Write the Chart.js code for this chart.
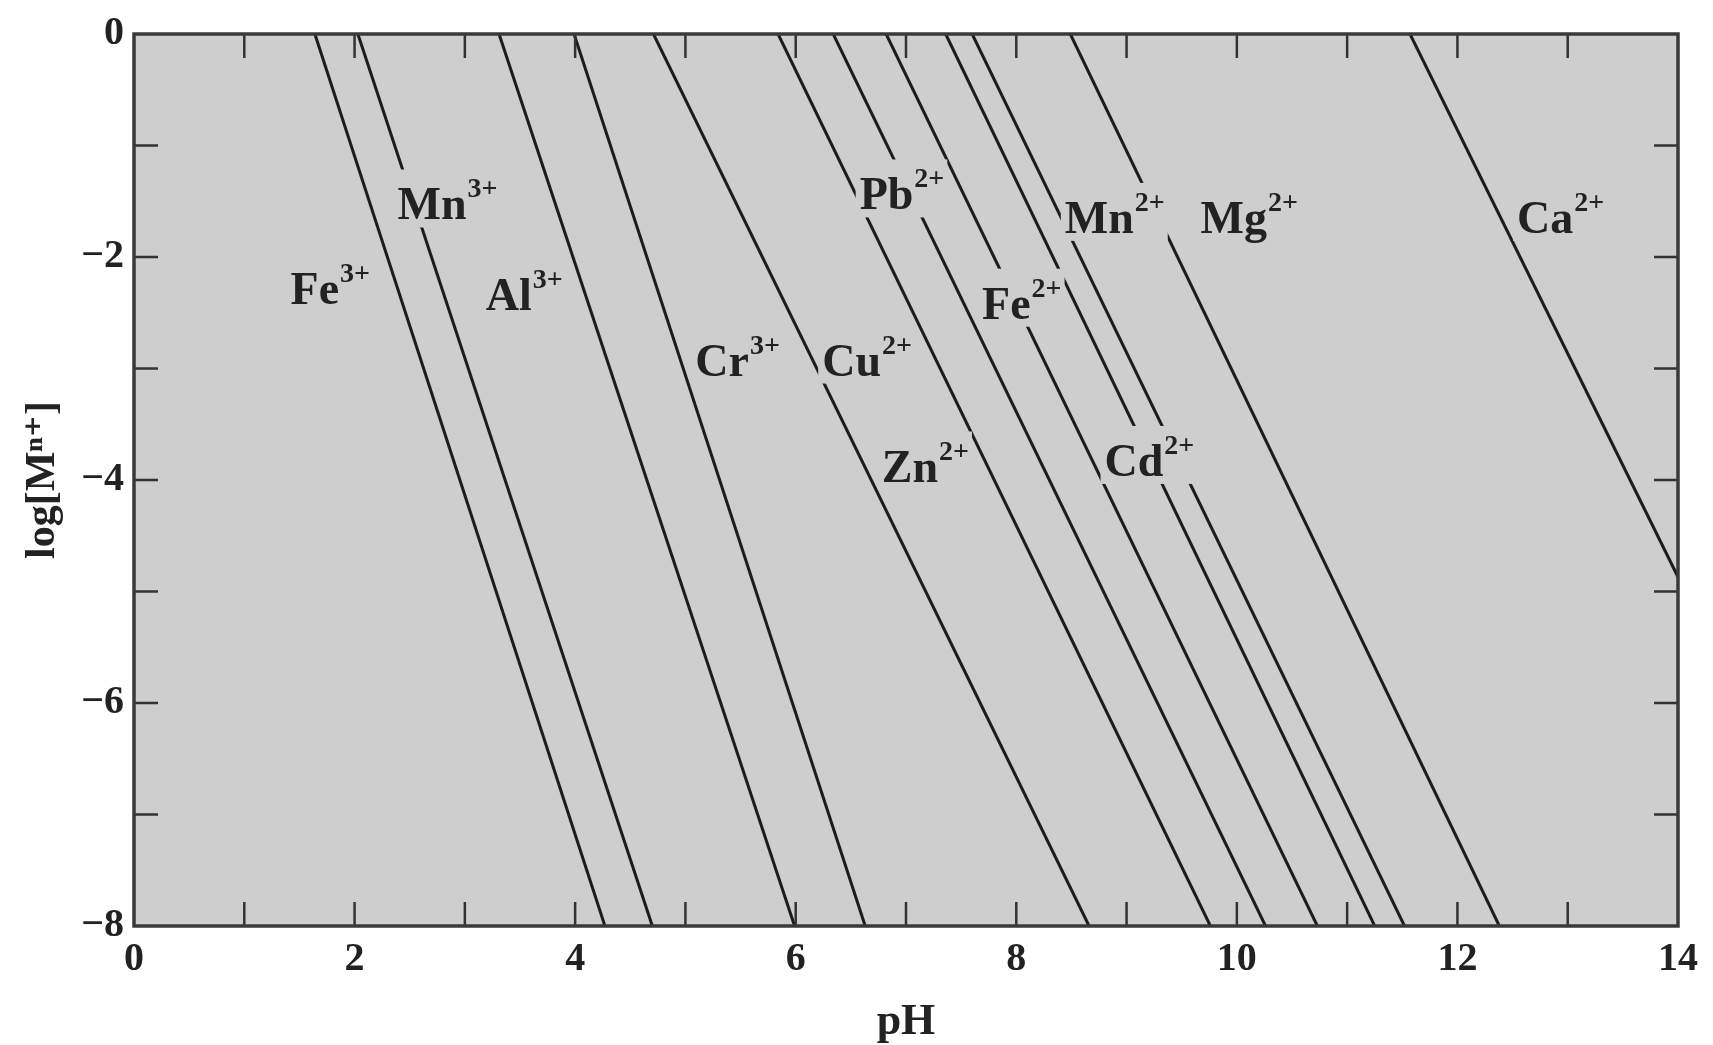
<!DOCTYPE html>
<html><head><meta charset="utf-8">
<script src="https://cdn.jsdelivr.net/npm/chart.js@4.4.0/dist/chart.umd.min.js"></script>
<style>html,body{margin:0;padding:0;background:#fff;overflow:hidden}</style>
</head><body>
<canvas id="c" width="1713" height="1045"></canvas>
<script>
// Metal ions and their solubility lines (log[M^n+] vs pH)
const ions     = ['Fe','Mn','Al','Cr','Cu','Pb','Zn','Fe','Cd','Mn','Mg','Ca'];
const charges  = ['3+','3+','3+','3+','2+','2+','2+','2+','2+','2+','2+','2+'];
const startPH  = [1.64, 2.03, 3.31, 3.99, 4.71, 5.84, 6.34, 6.82, 7.36, 7.60, 8.49, 11.57];
const startLog = [0, 0, 0, 0, 0, 0, 0, 0, 0, 0, 0, 0];
const endPH    = [4.27, 4.70, 5.99, 6.63, 8.66, 9.76, 10.26, 10.73, 11.25, 11.52, 12.38, 14];
const endLog   = [-8, -8, -8, -8, -8, -8, -8, -8, -8, -8, -8, -4.87];
// label anchor (left edge pH, vertical centre log)
const labelPH  = [1.42, 2.39, 3.19, 5.09, 6.24, 6.58, 6.78, 7.69, 8.80, 8.44, 9.67, 12.54];
const labelLog = [-2.28, -1.52, -2.33, -2.92, -2.92, -1.43, -3.87, -2.41, -3.82, -1.64, -1.64, -1.64];
const xTickLabels = [0, 2, 4, 6, 8, 10, 12, 14];
const yTickLabels = [0, -2, -4, -6, -8];

const PLOT_BG = '#cecece';
const SERIF = "'Liberation Serif','DejaVu Serif',serif";

const datasets = ions.map((ion, i) => ({
  label: ion + charges[i],
  data: [{x: startPH[i], y: startLog[i]}, {x: endPH[i], y: endLog[i]}],
  showLine: true,
  borderColor: '#1c1c1c',
  borderWidth: 3,
  pointRadius: 0,
  fill: false
}));

const decor = {
  id: 'decor',
  beforeDatasetsDraw(chart) {
    const {ctx, chartArea: a} = chart;
    ctx.save();
    ctx.fillStyle = PLOT_BG;
    ctx.fillRect(a.left, a.top, a.right - a.left, a.bottom - a.top);
    ctx.restore();
  },
  afterDatasetsDraw(chart) {
    const {ctx, chartArea: a, scales: {x, y}} = chart;
    ctx.save();
    // labels with background masks
    for (let i = 0; i < ions.length; i++) {
      const px = x.getPixelForValue(labelPH[i]);
      const py = y.getPixelForValue(labelLog[i]);
      ctx.font = 'bold 46px ' + SERIF;
      const w1 = ctx.measureText(ions[i]).width;
      ctx.font = 'bold 28px ' + SERIF;
      const w2 = ctx.measureText(charges[i]).width;
      ctx.fillStyle = PLOT_BG;
      ctx.fillRect(px - 4, py - 34, w1 + w2 + 8, 58);
      ctx.fillStyle = '#222';
      ctx.textBaseline = 'alphabetic';
      ctx.textAlign = 'left';
      ctx.font = 'bold 46px ' + SERIF;
      ctx.fillText(ions[i], px, py + 16);
      ctx.font = 'bold 28px ' + SERIF;
      ctx.fillText(charges[i], px + w1 + 1, py - 6);
    }
    // inward ticks
    ctx.strokeStyle = '#333';
    ctx.lineWidth = 2.5;
    const L = 24;
    ctx.beginPath();
    for (let v = 1; v < 14; v++) {
      const px = x.getPixelForValue(v);
      ctx.moveTo(px, a.bottom); ctx.lineTo(px, a.bottom - L);
      ctx.moveTo(px, a.top); ctx.lineTo(px, a.top + L);
    }
    for (let v = -7; v < 0; v++) {
      const py = y.getPixelForValue(v);
      ctx.moveTo(a.left, py); ctx.lineTo(a.left + L, py);
      ctx.moveTo(a.right, py); ctx.lineTo(a.right - L, py);
    }
    ctx.stroke();
    // frame
    ctx.strokeStyle = '#3a3a3a';
    ctx.lineWidth = 3.5;
    ctx.strokeRect(a.left, a.top, a.right - a.left, a.bottom - a.top);
    ctx.restore();
  }
};

new Chart(document.getElementById('c'), {
  type: 'scatter',
  data: {datasets},
  plugins: [decor],
  options: {
    responsive: false,
    animation: false,
    layout: {padding: {top: 29, right: 35, left: 0, bottom: 0}},
    plugins: {legend: {display: false}, tooltip: {enabled: false}},
    scales: {
      x: {
        type: 'linear', min: 0, max: 14,
        afterFit(s) { s.height = 119; },
        afterBuildTicks(s) { s.ticks = xTickLabels.map(v => ({value: v})); },
        ticks: {
          autoSkip: false, maxRotation: 0, padding: 10, color: '#222',
          font: {family: SERIF, size: 40, weight: 'bold'},
          callback: v => String(v)
        },
        grid: {display: false, drawTicks: false},
        border: {display: false},
        title: {display: true, text: 'pH', color: '#222', padding: {top: 0, bottom: 0},
                font: {family: SERIF, size: 44, weight: 'bold', lineHeight: 1}}
      },
      y: {
        type: 'linear', min: -8, max: 0,
        afterFit(s) { s.width = 134; },
        afterBuildTicks(s) { s.ticks = yTickLabels.map(v => ({value: v})); },
        ticks: {
          autoSkip: false, padding: 10, color: '#222',
          font: {family: SERIF, size: 40, weight: 'bold'},
          callback: v => (v < 0 ? '\u2212' + Math.abs(v) : String(v))
        },
        grid: {display: false, drawTicks: false},
        border: {display: false},
        title: {display: true, text: 'log[M\u207F\u207A]', color: '#222', padding: {top: 18, bottom: 0},
                font: {family: SERIF, size: 42, weight: 'bold'}}
      }
    }
  }
});
</script>
</body></html>
